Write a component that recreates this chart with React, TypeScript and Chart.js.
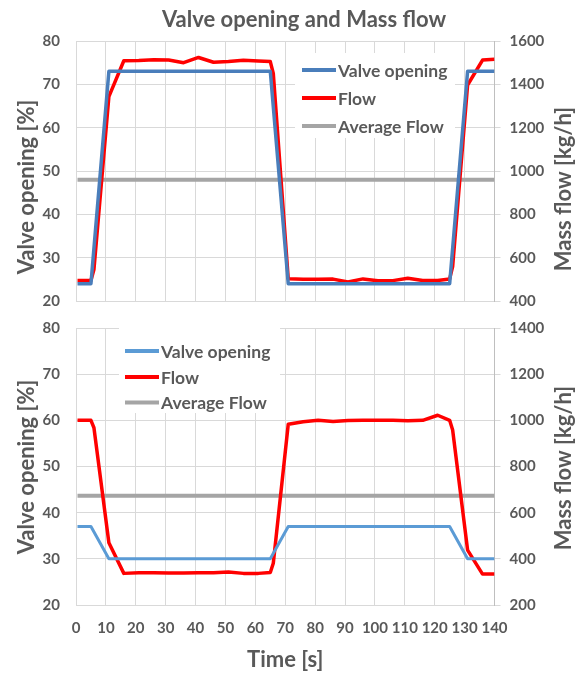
import React, { useEffect, useRef } from "react";
import { Chart, registerables } from "chart.js";

Chart.register(...registerables);

const FONT = "Lato, 'Open Sans', 'DejaVu Sans', sans-serif";
const TEXT = "#595959";
const GRID = "#d9d9d9";

// ---- text ----
const chartTitle = "Valve opening and Mass flow";
const leftAxisTitle = "Valve opening [%]";
const rightAxisTitle = "Mass flow [kg/h]";
const xAxisTitle = "Time [s]";
const seriesLabels = ["Valve opening", "Flow", "Average Flow"];

// ---- axis ranges ----
const timeRange = [0, 140, 10];
const valveRange = [20, 80, 10];
const topFlowRange = [400, 1600, 200];
const bottomFlowRange = [200, 1400, 200];

// ---- data ----
const valveTime = [0.5, 5, 11, 65, 71, 125, 131, 140];
const topValve = [24, 24, 73, 73, 24, 24, 73, 73];
const bottomValve = [37, 37, 30, 30, 37, 37, 30, 30];

const flowTime = [0.5, 5, 6, 11, 16, 21, 26, 31, 36, 41, 46, 51, 56, 61, 65, 66, 71, 76, 81, 86, 91, 96, 101, 106, 111, 116, 121, 125, 126, 131, 136, 140];
const topFlow = [495, 495, 545, 1343, 1509, 1510, 1514, 1512, 1500, 1524, 1502, 1505, 1511, 1508, 1505, 1450, 503, 500, 500, 501, 488, 502, 493, 494, 505, 495, 495, 502, 559, 1397, 1512, 1516];
const bottomFlow = [1000, 1000, 968, 470, 337, 340, 340, 339, 339, 340, 340, 343, 337, 337, 341, 381, 983, 994, 1000, 995, 999, 1000, 1000, 1000, 998, 1000, 1022, 1000, 958, 438, 334, 334];

const averageTime = [0.5, 140];
const topAverageFlow = [960, 960];
const bottomAverageFlow = [673, 673];

const topValveColor = "#4a7ebb";
const bottomValveColor = "#5b9bd5";
const flowColor = "#ff0000";
const averageColor = "#a5a5a5";

const pts = (xs: number[], ys: number[]) => xs.map((x, i) => ({ x, y: ys[i] }));

const decorPlugin = {
  id: "decor",
  afterDatasetsDraw(chart: any, _args: any, opts: any) {
    const ctx = chart.ctx;
    const lg = opts.legend;
    if (!lg) return;
    ctx.save();
    ctx.fillStyle = "#ffffff";
    ctx.fillRect(lg.box[0], lg.box[1], lg.box[2], lg.box[3]);
    ctx.font = `bold ${lg.size}px ${FONT}`;
    ctx.textAlign = "left";
    ctx.textBaseline = "middle";
    chart.data.datasets.forEach((ds: any, i: number) => {
      const y = lg.rows[i];
      ctx.strokeStyle = ds.borderColor;
      ctx.lineWidth = lg.lineWidth;
      ctx.beginPath();
      ctx.moveTo(lg.lineX[0], y);
      ctx.lineTo(lg.lineX[1], y);
      ctx.stroke();
      ctx.fillStyle = TEXT;
      ctx.fillText(ds.label, lg.textX, y + 1);
    });
    ctx.restore();
  },
  afterDraw(chart: any, _args: any, opts: any) {
    const ctx = chart.ctx;
    ctx.save();
    ctx.fillStyle = TEXT;
    ctx.textAlign = "center";
    ctx.textBaseline = "middle";
    if (opts.title) {
      ctx.font = `bold ${opts.title.size}px ${FONT}`;
      ctx.fillText(opts.title.text, opts.title.x, opts.title.y);
    }
    (opts.axisTitles || []).forEach((t: any) => {
      ctx.save();
      ctx.translate(t.x, t.y);
      ctx.rotate(-Math.PI / 2);
      ctx.font = `bold ${t.size}px ${FONT}`;
      ctx.fillText(t.text, 0, 0);
      ctx.restore();
    });
    ctx.restore();
  },
};

function buildConfig(p: any) {
  const tickFont = { family: FONT, size: 15, weight: "bold" as const };
  return {
    type: "line" as const,
    data: {
      datasets: [
        { label: seriesLabels[0], data: pts(valveTime, p.valve), borderColor: p.valveColor, borderWidth: p.valveWidth, yAxisID: "y", pointRadius: 0, tension: 0, borderJoinStyle: "round" },
        { label: seriesLabels[1], data: pts(flowTime, p.flow), borderColor: flowColor, borderWidth: 3.5, yAxisID: "y1", pointRadius: 0, tension: 0, borderJoinStyle: "round" },
        { label: seriesLabels[2], data: pts(averageTime, p.average), borderColor: averageColor, borderWidth: 4, yAxisID: "y1", pointRadius: 0, tension: 0 },
      ],
    },
    options: {
      animation: false,
      responsive: false,
      maintainAspectRatio: false,
      layout: { padding: { left: 0, right: 0, top: p.padTop, bottom: p.padBottom } },
      plugins: {
        legend: { display: false },
        tooltip: { enabled: false },
        decor: { title: p.title, axisTitles: p.axisTitles, legend: p.legend },
      },
      scales: {
        x: {
          type: "linear",
          min: timeRange[0],
          max: timeRange[1],
          ticks: { stepSize: timeRange[2], display: p.showX, font: tickFont, color: TEXT, padding: 14, maxRotation: 0, minRotation: 0, autoSkip: false },
          grid: { color: GRID, drawTicks: false },
          border: { color: GRID },
          title: { display: p.showX, text: xAxisTitle, color: TEXT, font: { family: FONT, size: 22, weight: "bold" }, padding: { top: 0, bottom: 0 } },
          afterFit: (s: any) => { s.height = p.xHeight; },
        },
        y: {
          position: "left",
          min: valveRange[0],
          max: valveRange[1],
          ticks: { stepSize: valveRange[2], font: tickFont, color: TEXT, padding: 16 },
          grid: { color: GRID, drawTicks: false },
          border: { color: GRID },
          afterFit: (s: any) => { s.width = 76; },
        },
        y1: {
          position: "right",
          min: p.flowRange[0],
          max: p.flowRange[1],
          ticks: { stepSize: p.flowRange[2], font: tickFont, color: TEXT, padding: 9, callback: (v: any) => String(v) },
          grid: { color: GRID, drawOnChartArea: false, drawTicks: true, tickLength: 6 },
          border: { color: "#bfbfbf" },
          afterFit: (s: any) => { s.width = 86.5; },
        },
      },
    },
    plugins: [decorPlugin],
  };
}

function Panel({ p, width, height, top }: any) {
  const ref = useRef<HTMLCanvasElement>(null);
  useEffect(() => {
    if (!ref.current) return;
    const chart = new Chart(ref.current, buildConfig(p) as any);
    return () => chart.destroy();
  }, []);
  return (
    <canvas
      ref={ref}
      width={width}
      height={height}
      style={{ position: "absolute", left: 0, top, width, height, display: "block" }}
    />
  );
}

const topPanel = {
  valve: topValve,
  flow: topFlow,
  average: topAverageFlow,
  valveColor: topValveColor,
  valveWidth: 3.5,
  flowRange: topFlowRange,
  showX: false,
  xHeight: 0,
  padTop: 41,
  padBottom: 25,
  title: { text: chartTitle, x: 304, y: 20, size: 22 },
  axisTitles: [
    { text: leftAxisTitle, x: 27, y: 187, size: 22 },
    { text: rightAxisTitle, x: 564, y: 189, size: 22 },
  ],
  legend: { box: [295, 53, 160, 85], lineX: [302, 336], textX: 338, rows: [70, 98, 126], size: 17.5, lineWidth: 4 },
};

const BOTTOM_TOP = 303;
const bottomPanel = {
  valve: bottomValve,
  flow: bottomFlow,
  average: bottomAverageFlow,
  valveColor: bottomValveColor,
  valveWidth: 3,
  flowRange: bottomFlowRange,
  showX: true,
  xHeight: 68,
  padTop: 25,
  padBottom: 0,
  title: null,
  axisTitles: [
    { text: leftAxisTitle, x: 27, y: 467 - BOTTOM_TOP, size: 22 },
    { text: rightAxisTitle, x: 564, y: 468 - BOTTOM_TOP, size: 22 },
  ],
  legend: { box: [119, 328 - BOTTOM_TOP, 161, 85], lineX: [125, 159], textX: 161, rows: [351 - BOTTOM_TOP, 377 - BOTTOM_TOP, 402.5 - BOTTOM_TOP], size: 17.5, lineWidth: 4 },
};

export default function App() {
  return (
    <div style={{ position: "absolute", left: 0, top: 0, width: 581, height: 673, background: "#ffffff" }}>
      <Panel p={topPanel} width={581} height={326} top={0} />
      <Panel p={bottomPanel} width={581} height={673 - BOTTOM_TOP} top={BOTTOM_TOP} />
    </div>
  );
}
